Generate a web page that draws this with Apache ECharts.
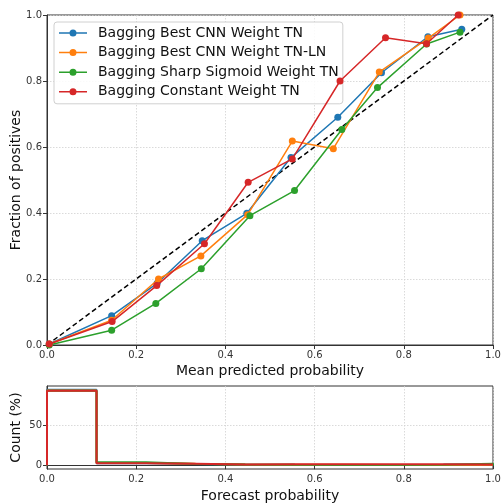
<!DOCTYPE html>
<html>
<head>
<meta charset="utf-8">
<script src="https://cdn.jsdelivr.net/npm/echarts@6/dist/echarts.min.js"></script>
<style>
  html, body { margin: 0; padding: 0; background: #fff; }
  #chart { width: 503px; height: 504px; }
</style>
</head>
<body>
<div id="chart"></div>
<script>
// Reliability curves: mean predicted probability vs fraction of positives
const seriesNames = [
  'Bagging Best CNN Weight TN',
  'Bagging Best CNN Weight TN-LN',
  'Bagging Sharp Sigmoid Weight TN',
  'Bagging Constant Weight TN'
];
const seriesColors = ['#1f77b4', '#ff7f0e', '#2ca02c', '#d62728'];

const bestTN_x    = [0.005, 0.145, 0.247, 0.348, 0.448, 0.547, 0.652, 0.750, 0.854, 0.930];
const bestTN_y    = [0.003, 0.089, 0.187, 0.316, 0.399, 0.568, 0.690, 0.825, 0.934, 0.957];
const bestTNLN_x  = [0.005, 0.145, 0.250, 0.345, 0.450, 0.550, 0.642, 0.745, 0.855, 0.926];
const bestTNLN_y  = [0.003, 0.075, 0.200, 0.270, 0.395, 0.618, 0.595, 0.827, 0.930, 1.000];
const sharpTN_x   = [0.005, 0.145, 0.244, 0.346, 0.455, 0.555, 0.661, 0.741, 0.851, 0.926];
const sharpTN_y   = [0.000, 0.045, 0.126, 0.231, 0.392, 0.468, 0.653, 0.780, 0.912, 0.948];
const constTN_x   = [0.005, 0.146, 0.246, 0.353, 0.451, 0.550, 0.657, 0.759, 0.851, 0.922];
const constTN_y   = [0.003, 0.071, 0.180, 0.307, 0.493, 0.564, 0.800, 0.931, 0.913, 1.000];

// Forecast histogram, 9 equal bins on [0, 1], counts in percent
const binEdges = [0, 1/9, 2/9, 3/9, 4/9, 5/9, 6/9, 7/9, 8/9, 1];
const bestTN_hist   = [94.0, 2.6, 1.5, 0.8, 0.5, 0.4, 0.4, 0.5, 1.2];
const bestTNLN_hist = [93.0, 2.8, 1.8, 1.0, 0.6, 0.5, 0.4, 0.4, 0.6];
const sharpTN_hist  = [92.8, 3.7, 1.6, 0.8, 0.5, 0.4, 0.4, 0.5, 1.7];
const constTN_hist  = [92.8, 2.5, 1.7, 1.0, 1.1, 1.1, 1.1, 1.1, 0.8];

const countTicks = [0, 50];

const curveX = [bestTN_x, bestTNLN_x, sharpTN_x, constTN_x];
const curveY = [bestTN_y, bestTNLN_y, sharpTN_y, constTN_y];
const hists = [bestTN_hist, bestTNLN_hist, sharpTN_hist, constTN_hist];

const FONT = 'DejaVu Sans';

// legend glyph: short line with a dot in the middle (28 x 7 box)
const LEGEND_ICON = 'path://M0,2.75 L28,2.75 L28,4.25 L0,4.25 Z M17.5,3.5 A3.5,3.5 0 1,1 10.5,3.5 A3.5,3.5 0 1,1 17.5,3.5 Z';

function zip(xs, ys) { return xs.map((x, i) => [x, ys[i]]); }

// step outline of a histogram, including the drops to the baseline at both ends
function stepOutline(values) {
  const pts = [[binEdges[0], 0]];
  values.forEach((v, i) => {
    pts.push([binEdges[i], v]);
    pts.push([binEdges[i + 1], v]);
  });
  pts.push([binEdges[binEdges.length - 1], 0]);
  return pts;
}

const gridLine = { show: true, lineStyle: { color: '#d0d0d0', type: [1.5, 1.5], width: 0.8 } };
const axisLineStyle = { show: true, lineStyle: { color: '#333', width: 1 } };
const tickStyle = { show: true, length: 4, lineStyle: { color: '#333', width: 1 } };
const labelStyle = { color: '#333', fontFamily: FONT, fontSize: 10, margin: 5 };
const nameStyle = { color: '#111', fontFamily: FONT, fontSize: 14 };

const chart = echarts.init(document.getElementById('chart'), null, { renderer: 'canvas' });

const series = [];
// perfectly calibrated reference
series.push({
  name: 'diag', type: 'line', xAxisIndex: 0, yAxisIndex: 0,
  data: [[0, 0], [1, 1]], symbol: 'none', silent: true, z: 1,
  lineStyle: { color: '#000', width: 1.5, type: [5, 3] }
});
seriesNames.forEach((name, i) => {
  series.push({
    name, type: 'line', xAxisIndex: 0, yAxisIndex: 0,
    data: zip(curveX[i], curveY[i]),
    symbol: 'circle', symbolSize: 7, z: 3 + i,
    lineStyle: { color: seriesColors[i], width: 1.5 },
    itemStyle: { color: seriesColors[i] }
  });
});
seriesNames.forEach((name, i) => {
  series.push({
    name: name + ' hist', type: 'line', xAxisIndex: 1, yAxisIndex: 1,
    data: stepOutline(hists[i]), symbol: 'none', z: 3 + i,
    lineStyle: { color: seriesColors[i], width: 2 }
  });
});

chart.setOption({
  animation: false,
  backgroundColor: '#fff',
  grid: [
    { left: 47, right: 10, top: 15, height: 330, show: true, borderColor: '#333', borderWidth: 1,
      containLabel: false, outerBoundsMode: 'none' },
    { left: 47, right: 10, top: 386, height: 83, show: true, borderColor: '#333', borderWidth: 1,
      containLabel: false, outerBoundsMode: 'none' }
  ],
  legend: {
    data: seriesNames.map(n => ({ name: n, icon: LEGEND_ICON })),
    orient: 'vertical', left: 54, top: 22,
    padding: [3, 4, 4, 5],
    itemWidth: 28, itemHeight: 7, itemGap: 3.6,
    itemStyle: { borderWidth: 0 },
    backgroundColor: 'rgba(255,255,255,0.85)',
    borderColor: '#d0d0d0', borderWidth: 1, borderRadius: 3,
    textStyle: { fontFamily: FONT, fontSize: 14, color: '#111', lineHeight: 16, padding: [0, 0, 0, 6] }
  },
  xAxis: [
    {
      type: 'value', gridIndex: 0, min: 0, max: 1, interval: 0.2,
      name: 'Mean predicted probability', nameLocation: 'middle', nameGap: 19,
      nameMoveOverlap: false,
      nameTextStyle: nameStyle,
      axisLine: axisLineStyle, axisTick: tickStyle, splitLine: gridLine,
      axisLabel: Object.assign({}, labelStyle, { formatter: v => v.toFixed(1) })
    },
    {
      type: 'value', gridIndex: 1, min: 0, max: 1, interval: 0.2,
      name: 'Forecast probability', nameLocation: 'middle', nameGap: 20,
      nameMoveOverlap: false,
      nameTextStyle: nameStyle,
      axisLine: axisLineStyle, axisTick: tickStyle, splitLine: gridLine,
      axisLabel: Object.assign({}, labelStyle, { formatter: v => v.toFixed(1) })
    }
  ],
  yAxis: [
    {
      type: 'value', gridIndex: 0, min: 0, max: 1, interval: 0.2,
      name: 'Fraction of positives', nameLocation: 'middle', nameGap: 24,
      nameMoveOverlap: false,
      nameTextStyle: nameStyle,
      axisLine: axisLineStyle, axisTick: tickStyle, splitLine: gridLine,
      axisLabel: Object.assign({}, labelStyle, { formatter: v => v.toFixed(1) })
    },
    {
      type: 'value', gridIndex: 1, min: -4.7, max: 98.7,
      name: 'Count (%)', nameLocation: 'middle', nameGap: 24,
      nameMoveOverlap: false,
      nameTextStyle: nameStyle,
      axisLine: axisLineStyle,
      axisTick: Object.assign({}, tickStyle, { customValues: countTicks }),
      splitLine: gridLine,
      axisLabel: Object.assign({}, labelStyle, { customValues: countTicks, formatter: v => String(v) })
    }
  ],
  series
});
</script>
</body>
</html>
